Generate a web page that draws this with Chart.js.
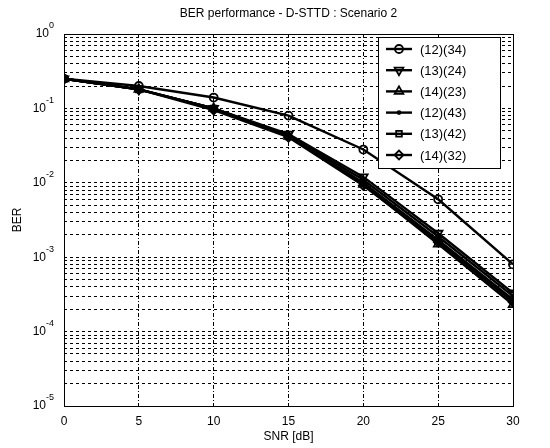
<!DOCTYPE html>
<html lang="en">
<head>
    <meta charset="UTF-8">
    <title>BER performance - D-STTD : Scenario 2</title>
    <script src="https://cdn.jsdelivr.net/npm/chart.js@4/dist/chart.umd.min.js"></script>
    <style>
        html, body {
            margin: 0;
            padding: 0;
            background: #ffffff;
        }

        .wrap {
            width: 550px;
            height: 448px;
        }
    </style>
</head>
<body>
<div class="wrap">
    <canvas id="ber" width="550" height="448"></canvas>
</div>
<script>
    // values
    var snr = [0, 5, 10, 15, 20, 25, 30];
    var ber_12_34 = [0.25, 0.20, 0.14, 0.080, 0.028, 0.0060, 0.00080];
    var ber_13_24 = [0.25, 0.18, 0.10, 0.045, 0.012, 0.0021, 0.00033];
    var ber_14_23 = [0.25, 0.18, 0.10, 0.042, 0.0095, 0.0015, 0.00023];
    var ber_12_43 = [0.25, 0.18, 0.10, 0.043, 0.011, 0.0019, 0.00030];
    var ber_13_42 = [0.25, 0.18, 0.10, 0.042, 0.010, 0.0017, 0.00027];
    var ber_14_32 = [0.25, 0.18, 0.095, 0.041, 0.0092, 0.0016, 0.00025];
    var seriesNames = ['(12)(34)', '(13)(24)', '(14)(23)', '(12)(43)', '(13)(42)', '(14)(32)'];
    var xTicks = [0, 5, 10, 15, 20, 25, 30];
    var yTickExps = [0, -1, -2, -3, -4, -5];

    var FONT = '"Liberation Sans", Arial, sans-serif';

    function pts(ys) {
        return snr.map(function (x, i) {
            return {x: x, y: ys[i]};
        });
    }

    function series(label, ys, style, rot, radius) {
        return {
            label: label,
            data: pts(ys),
            borderColor: '#000',
            borderWidth: 2.4,
            pointStyle: style,
            rotation: rot,
            pointRadius: radius,
            pointBorderWidth: 1.8,
            pointBorderColor: '#000',
            pointBackgroundColor: radius < 2 ? '#000' : 'rgba(0,0,0,0)',
            tension: 0,
            fill: false
        };
    }

    // frame, title, y labels with exponents, legend box
    var matlabLook = {
        id: 'matlabLook',
        afterDraw: function (chart) {
            var ctx = chart.ctx;
            var a = chart.chartArea;
            ctx.save();
            ctx.strokeStyle = '#000';
            ctx.lineWidth = 1;
            ctx.setLineDash([]);
            ctx.strokeRect(a.left + 0.5, a.top + 0.5, a.right - a.left, a.bottom - a.top);

            ctx.fillStyle = '#000';
            ctx.font = '12px ' + FONT;
            ctx.textAlign = 'center';
            ctx.textBaseline = 'middle';
            ctx.fillText('BER performance - D-STTD : Scenario 2', (a.left + a.right) / 2, 14);

            var ys = chart.scales.y;
            yTickExps.forEach(function (e) {
                var py = ys.getPixelForValue(Math.pow(10, e));
                var ex = String(e);
                ctx.font = '9px ' + FONT;
                var ew = ctx.measureText(ex).width;
                ctx.textAlign = 'left';
                ctx.textBaseline = 'middle';
                ctx.fillText(ex, a.left - 10 - ew, py - 8);
                ctx.font = '12px ' + FONT;
                ctx.textAlign = 'right';
                ctx.fillText('10', a.left - 10 - ew, py);
            });

            // legend
            var bx = 378, by = 37, bw = 122, bh = 131;
            ctx.fillStyle = '#fff';
            ctx.fillRect(bx, by, bw, bh);
            ctx.strokeRect(bx + 0.5, by + 0.5, bw, bh);
            chart.data.datasets.forEach(function (ds, i) {
                var cy = by + 12 + i * 21.2;
                ctx.strokeStyle = '#000';
                ctx.lineWidth = 2.4;
                ctx.beginPath();
                ctx.moveTo(bx + 8, cy);
                ctx.lineTo(bx + 34, cy);
                ctx.stroke();
                ctx.lineWidth = 1.8;
                ctx.fillStyle = ds.pointBackgroundColor;
                Chart.helpers.drawPoint(ctx, {
                    pointStyle: ds.pointStyle,
                    rotation: ds.rotation,
                    radius: ds.pointRadius,
                    borderWidth: 1.8
                }, bx + 21, cy);
                ctx.fillStyle = '#000';
                ctx.font = '13px ' + FONT;
                ctx.textAlign = 'left';
                ctx.textBaseline = 'middle';
                ctx.fillText(ds.label, bx + 42, cy + 1);
            });
            ctx.restore();
        }
    };

    var gridStyle = {
        color: '#000',
        lineWidth: 1,
        drawTicks: false
    };

    new Chart(document.getElementById('ber').getContext('2d'), {
        type: 'line',
        data: {
            datasets: [
                series(seriesNames[0], ber_12_34, 'circle', 0, 4),
                series(seriesNames[1], ber_13_24, 'triangle', 180, 5),
                series(seriesNames[2], ber_14_23, 'triangle', 0, 5),
                series(seriesNames[3], ber_12_43, 'circle', 0, 1.5),
                series(seriesNames[4], ber_13_42, 'rect', 0, 4),
                series(seriesNames[5], ber_14_32, 'rectRot', 0, 4.5)
            ]
        },
        options: {
            responsive: false,
            animation: false,
            layout: {
                padding: {left: 0, right: 37, top: 34, bottom: 0}
            },
            plugins: {
                legend: {display: false},
                tooltip: {enabled: false}
            },
            scales: {
                x: {
                    type: 'linear',
                    min: 0,
                    max: 30,
                    afterBuildTicks: function (s) {
                        s.ticks = xTicks.map(function (v) {
                            return {value: v};
                        });
                    },
                    afterFit: function (s) {
                        s.height = 42;
                    },
                    grid: gridStyle,
                    border: {display: false, dash: [4, 2, 1, 2]},
                    ticks: {
                        color: '#000',
                        padding: 8,
                        font: {family: FONT, size: 12}
                    },
                    title: {
                        display: true,
                        text: 'SNR [dB]',
                        color: '#000',
                        padding: 4,
                        font: {family: FONT, size: 12}
                    }
                },
                y: {
                    type: 'logarithmic',
                    min: 1e-5,
                    max: 1,
                    afterBuildTicks: function (s) {
                        var t = [];
                        for (var e = -5; e < 0; e++) {
                            for (var m = 1; m < 10; m++) {
                                t.push({value: m * Math.pow(10, e)});
                            }
                        }
                        t.push({value: 1});
                        s.ticks = t;
                    },
                    afterFit: function (s) {
                        s.width = 64;
                    },
                    grid: gridStyle,
                    border: {display: false, dash: [3, 3]},
                    ticks: {
                        display: false,
                        autoSkip: false
                    },
                    title: {
                        display: true,
                        text: 'BER',
                        color: '#000',
                        padding: {top: 10, bottom: 4},
                        font: {family: FONT, size: 12}
                    }
                }
            }
        },
        plugins: [matlabLook]
    });
</script>
</body>
</html>
